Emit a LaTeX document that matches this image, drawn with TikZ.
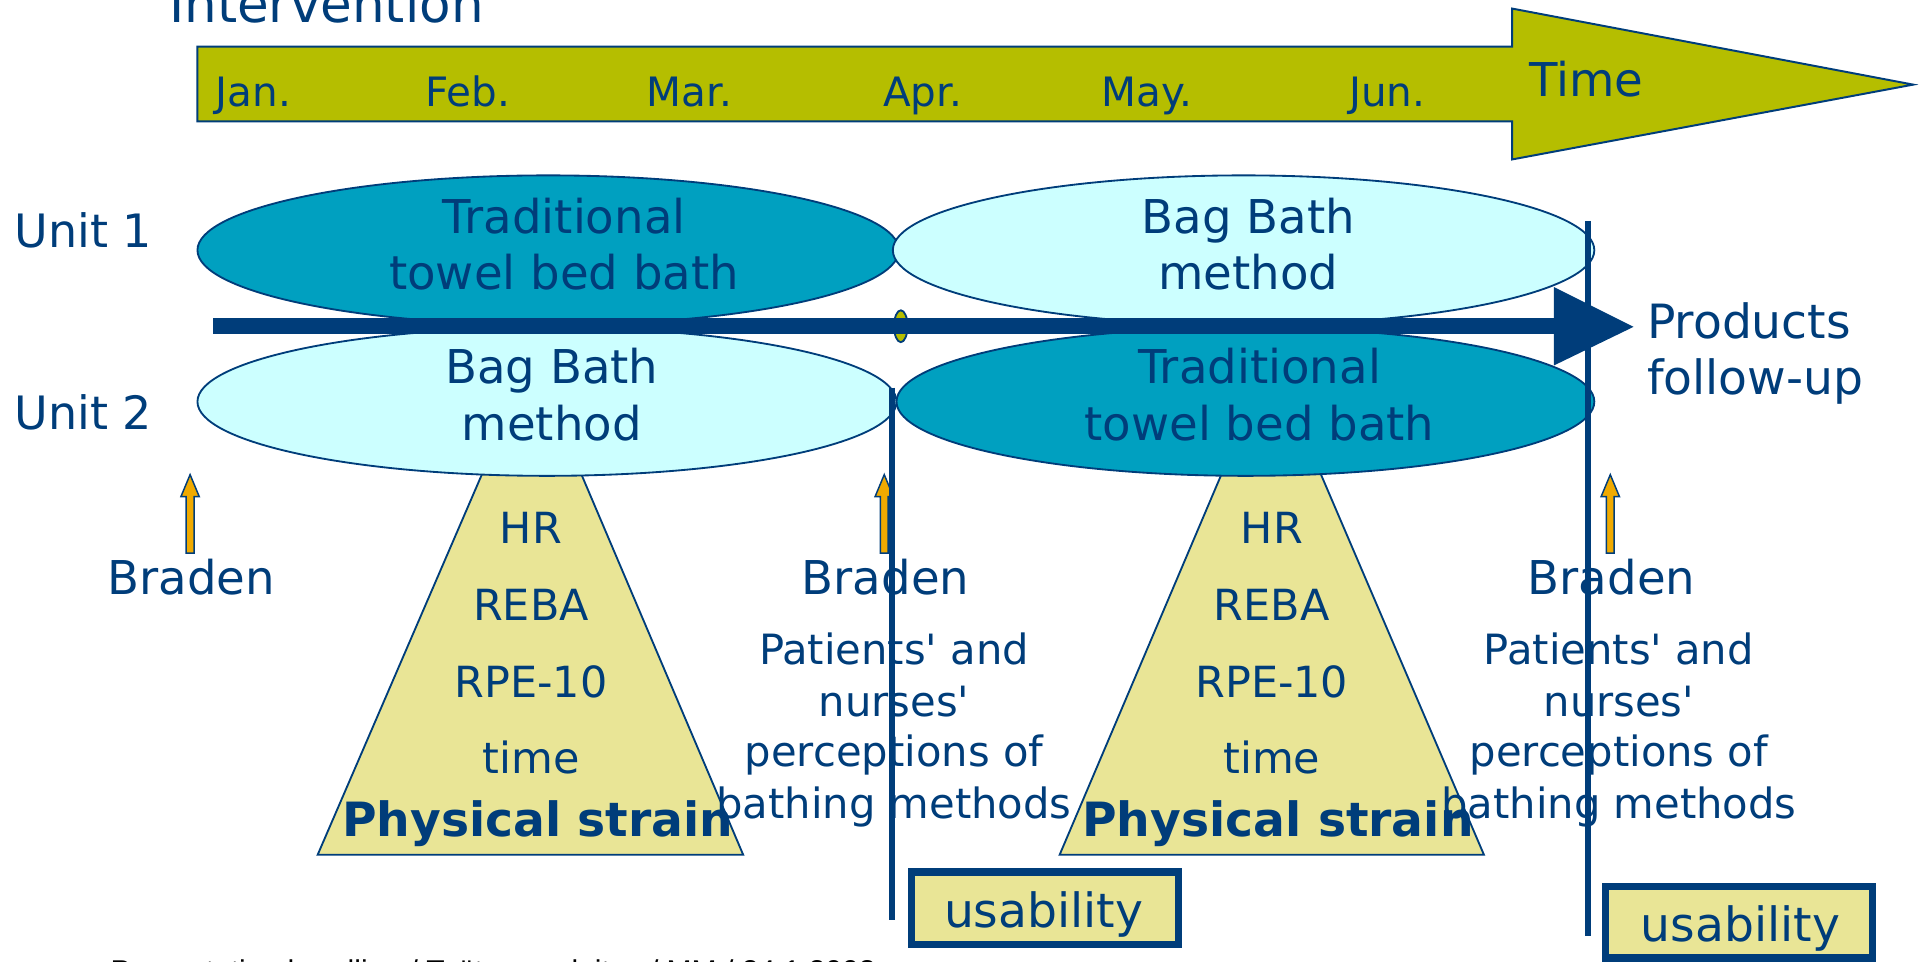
\documentclass[tikz,border=0pt]{standalone}
\usepackage{fontspec}
\setmainfont{DejaVu Sans}[Ligatures=TeXOff]
\newfontfamily\footfont{Liberation Sans}
\usetikzlibrary{shapes.geometric}
\definecolor{dblue}{RGB}{0,61,122}
\definecolor{olivec}{RGB}{181,190,0}
\definecolor{tealc}{RGB}{0,160,192}
\definecolor{cyanc}{RGB}{204,255,255}
\definecolor{khakic}{RGB}{233,229,150}
\definecolor{orangec}{RGB}{240,170,0}
\tikzset{
  t/.style={anchor=base, text=dblue, inner sep=0pt, outer sep=0pt},
  fmonth/.style={font=\fontsize{33}{40}\selectfont},
  fbig/.style={font=\fontsize{38}{46}\selectfont},
  fmid/.style={font=\fontsize{35}{42}\selectfont},
  fpat/.style={font=\fontsize{34}{41}\selectfont},
  fbold/.style={font=\bfseries\fontsize{38.5}{46}\selectfont},
  ell/.style={ellipse, draw=dblue, line width=1.5pt, inner sep=0pt},
  trap/.style={draw=dblue, line width=1.5pt, fill=khakic, line join=miter},
  vline/.style={draw=dblue, line width=5pt},
  ubox/.style={draw=dblue, line width=6pt, fill=khakic, inner sep=0pt, minimum width=218pt},
  oarrow/.pic={\draw[dblue, fill=orangec, line width=1.2pt, line join=miter]
     (-3.2,451) -- (-3.2,405) -- (-7.5,405) -- (0,387) -- (7.5,405) -- (3.2,405) -- (3.2,451) -- cycle;}
}
\begin{document}
\begin{tikzpicture}[x=1pt,y=-1pt]
\useasboundingbox (0,0) rectangle (1568,784);
% title
\node[t, anchor=base west, font=\fontsize{42}{50}\selectfont] (title) at (138,18.5) {Intervention};
% time arrow
\draw[dblue, line width=1.6pt, fill=olivec, line join=miter]
  (161,38) -- (1233,38) -- (1233,7) -- (1560,69) -- (1233,130) -- (1233,99) -- (161,99) -- cycle;
\node[t, anchor=base west, fmonth] (jan) at (176,86.5) {Jan.};
\node[t, anchor=base west, fmonth] (feb) at (347,86.5) {Feb.};
\node[t, anchor=base west, fmonth] (mar) at (527,86.5) {Mar.};
\node[t, anchor=base west, fmonth] (apr) at (720,86.5) {Apr.};
\node[t, anchor=base west, fmonth] (may) at (898,86.5) {May.};
\node[t, anchor=base west, fmonth] (jun) at (1100,86.5) {Jun.};
\node[t, anchor=base west, fbig] (time) at (1247,79) {Time};
% trapezoids
\draw[trap] (404.5,360) -- (392,389) -- (259,697) -- (606,697) -- (475,389) -- (462.7,360) -- cycle;
\draw[trap] (1007.3,360) -- (995,389) -- (864,697) -- (1210,697) -- (1078,389) -- (1065.6,360) -- cycle;
% ellipses
\node[ell, fill=tealc, minimum width=572pt, minimum height=122pt] (A) at (447,204) {};
\node[ell, fill=cyanc, minimum width=572pt, minimum height=122pt] (B) at (1014,204) {};
\node[ell, fill=cyanc, minimum width=570pt, minimum height=121pt] (C) at (446,327.5) {};
\node[ell, fill=tealc, minimum width=569pt, minimum height=121pt] (D) at (1015.5,327.5) {};
\node[ell, fill=olivec, minimum width=11pt, minimum height=26pt] (mid) at (734.5,266) {};
% main bar
\coordinate (barS) at (174,266);
\coordinate (barE) at (1268,266);
\draw[dblue, line width=13pt] (barS) -- (barE);
\fill[dblue] (1267,234) -- (1332,266.5) -- (1267,298) -- cycle;
% unit labels
\node[t, anchor=base west, font=\fontsize{37.5}{45}\selectfont] (u1) at (12,202) {Unit 1};
\node[t, anchor=base west, font=\fontsize{37.5}{45}\selectfont] (u2) at (12,350) {Unit 2};
% ellipse texts
\node[t, fbig] (A1) at (460,190) {Traditional};
\node[t, fbig] (A2) at (460,236) {towel bed bath};
\node[t, fbig] (B1) at (1018,190) {Bag Bath};
\node[t, fbig] (B2) at (1018,236) {method};
\node[t, fbig] (C1) at (450,313) {Bag Bath};
\node[t, fbig] (C2) at (450,359) {method};
\node[t, fbig] (D1) at (1027,313) {Traditional};
\node[t, fbig] (D2) at (1027,359) {towel bed bath};
% products
\node[t, anchor=base west, font=\fontsize{38.5}{46}\selectfont] (p1) at (1343,276) {Products};
\node[t, anchor=base west, font=\fontsize{38.5}{46}\selectfont] (p2) at (1343,322) {follow-up};
% orange arrows
\pic at (155,0) {oarrow};
\pic at (721,0) {oarrow};
\pic at (1313,0) {oarrow};
% Braden
\node[t, fbig] (br1) at (156,485) {Braden};
\node[t, fbig] (br2) at (722,485) {Braden};
\node[t, fbig] (br3) at (1314,485) {Braden};
% trapezoid texts
\foreach \cx/\nm in {433/L,1037/R}{
  \node[t, fmid] (hr\nm) at (\cx,443) {HR};
  \node[t, fmid] (reba\nm) at (\cx,506) {REBA};
  \node[t, fmid] (rpe\nm) at (\cx,569) {RPE-10};
  \node[t, fmid] (time\nm) at (\cx,631) {time};
}
\node[t, fbold] (psL) at (438.5,682) {Physical strain};
\node[t, fbold] (psR) at (1042,682) {Physical strain};
% perceptions
\foreach \cx/\nm in {729/L,1320/R}{
  \node[t, fpat] (pa\nm) at (\cx,542) {Patients' and};
  \node[t, fpat] (nu\nm) at (\cx,584) {nurses'};
  \node[t, fpat] (pe\nm) at (\cx,625) {perceptions of};
  \node[t, fpat] (ba\nm) at (\cx,667) {bathing methods};
}
% vertical lines
\coordinate (v1t) at (727,316);
\coordinate (v1b) at (727,750);
\coordinate (v2t) at (1295,180);
\coordinate (v2b) at (1295,763);
\draw[vline] (v1t) -- (v1b);
\draw[vline] (v2t) -- (v2b);
% usability boxes
\node[ubox, minimum height=59pt] (ub1) at (852,740.5) {};
\node[ubox, minimum height=58pt] (ub2) at (1418,752) {};
\node[t, font=\fontsize{38.5}{46}\selectfont] (ut1) at (851,756) {usability};
\node[t, font=\fontsize{38.5}{46}\selectfont] (ut2) at (1419,768) {usability};
% footer
\node[anchor=base west, inner sep=0pt, text=black, font=\footfont\fontsize{24.5}{28}\selectfont] (foot) at (90,800) {Presentation headline / Työterveyslaitos / MM / 24.1.2008};
\end{tikzpicture}
\end{document}
